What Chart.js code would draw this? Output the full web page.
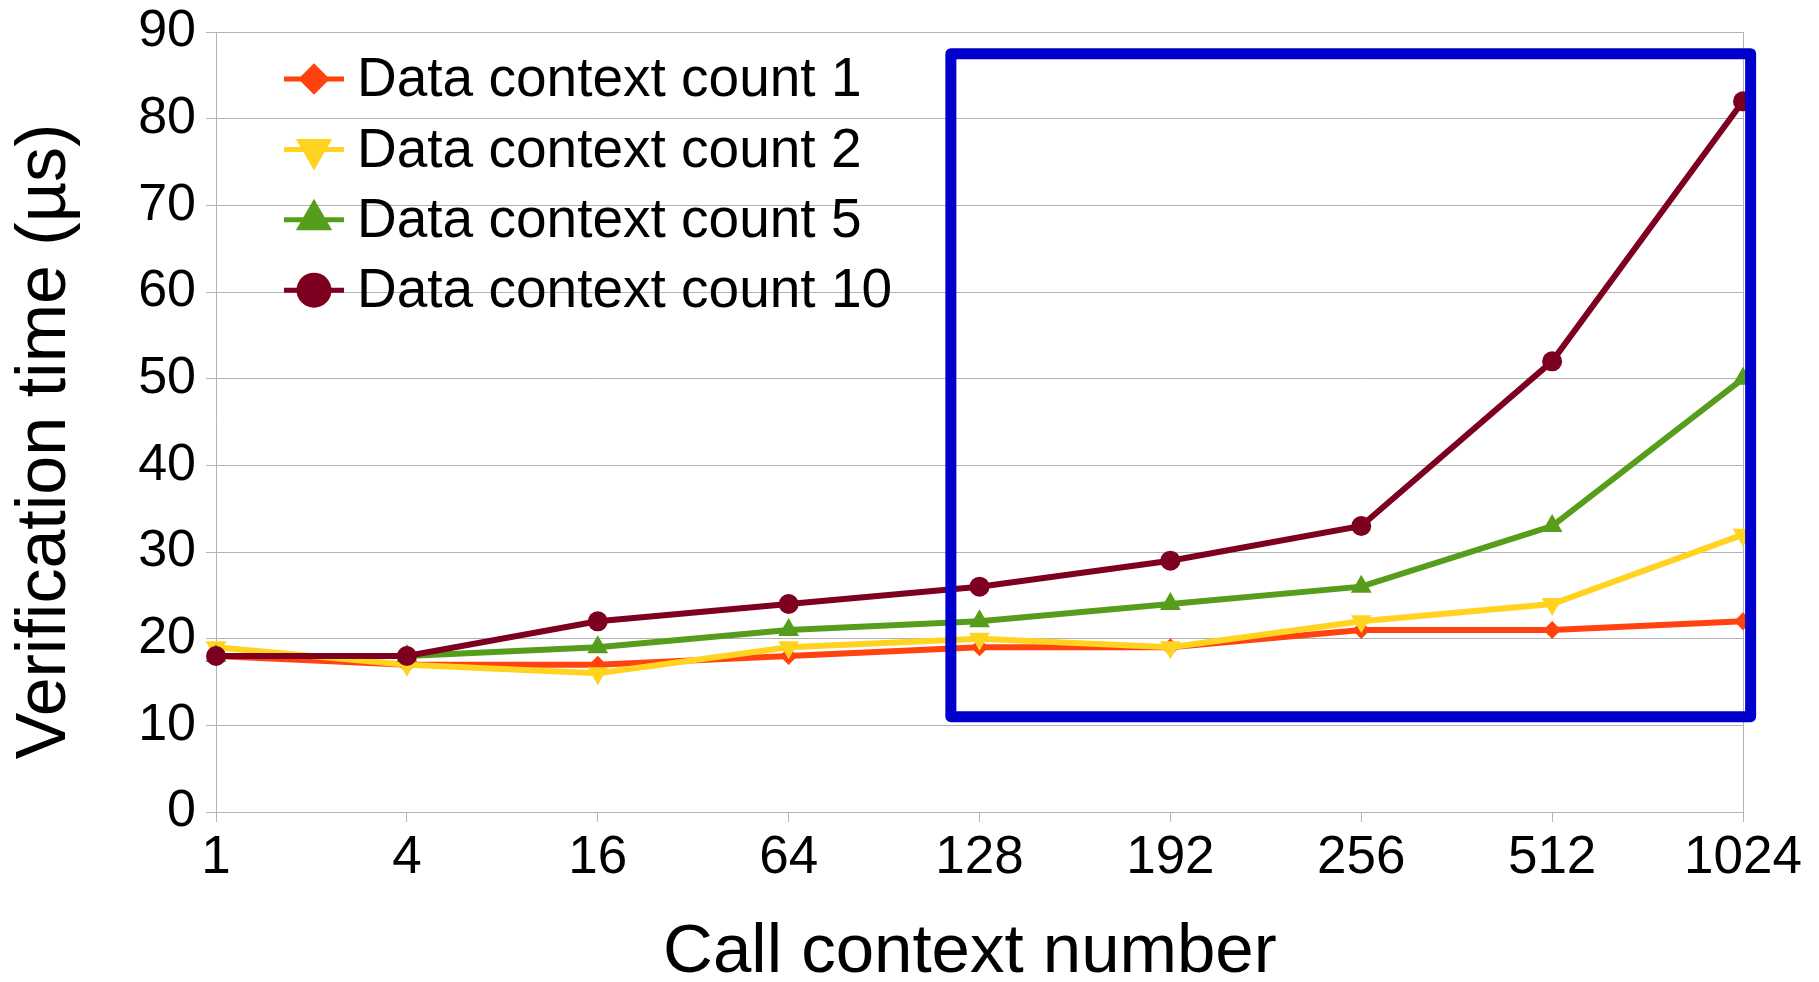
<!DOCTYPE html>
<html lang="en">
<head>
    <meta charset="UTF-8">
    <title>Verification time</title>
    <script src="https://cdn.jsdelivr.net/npm/chart.js"></script>
    <style>
        html, body { margin: 0; padding: 0; background: #fff; }
        #wrap { width: 1819px; height: 982px; }
    </style>
</head>
<body>
    <div id="wrap"><canvas id="chart"></canvas></div>

    <script>
        const callContexts = ['1', '4', '16', '64', '128', '192', '256', '512', '1024'];
        const count1 = [18, 17, 17, 18, 19, 19, 21, 21, 22];
        const count2 = [19, 17, 16, 19, 20, 19, 22, 24, 32];
        const count5 = [18, 18, 19, 21, 22, 24, 26, 33, 50];
        const count10 = [18, 18, 22, 24, 26, 29, 33, 52, 82];
        const seriesLabels = ['Data context count 1', 'Data context count 2', 'Data context count 5', 'Data context count 10'];
        const yTicks = [0, 10, 20, 30, 40, 50, 60, 70, 80, 90];

        // blue highlight box, in axis units (category index / µs)
        const boxX = [3.85, 8.04];
        const boxY = [11, 87.5];

        const FONT = 'Liberation Sans';
        const GRID = '#b3b3b3';

        function drawMarker(ctx, style, x, y, r, rot) {
            ctx.save();
            ctx.translate(x, y);
            ctx.rotate(rot * Math.PI / 180);
            ctx.beginPath();
            if (style === 'circle') {
                ctx.arc(0, 0, r, 0, Math.PI * 2);
            } else if (style === 'rectRot') {
                ctx.moveTo(-r, 0); ctx.lineTo(0, -r); ctx.lineTo(r, 0); ctx.lineTo(0, r);
            } else if (style === 'triangle') {
                for (let i = 0; i < 3; i++) {
                    const a = i * 2 * Math.PI / 3;
                    ctx[i ? 'lineTo' : 'moveTo'](Math.sin(a) * r, -Math.cos(a) * r);
                }
            }
            ctx.closePath();
            ctx.fill();
            ctx.restore();
        }

        // legend drawn inside the plot, line + marker like the original
        const insideLegend = {
            id: 'insideLegend',
            afterDraw(chart) {
                const {ctx, chartArea} = chart;
                chart.data.datasets.forEach((ds, i) => {
                    const y = chartArea.top + 47 + i * 70.4;
                    const x0 = chartArea.left + 68;
                    ctx.save();
                    ctx.strokeStyle = ds.borderColor;
                    ctx.lineWidth = 5;
                    ctx.beginPath();
                    ctx.moveTo(x0, y);
                    ctx.lineTo(x0 + 60, y);
                    ctx.stroke();
                    ctx.fillStyle = ds.borderColor;
                    drawMarker(ctx, ds.pointStyle, x0 + 30, y, ds.pointRadius * 1.75, ds.pointRotation || 0);
                    ctx.fillStyle = '#000';
                    ctx.font = '55px "' + FONT + '"';
                    ctx.textBaseline = 'middle';
                    ctx.fillText(ds.label, x0 + 73, y + 2);
                    ctx.restore();
                });
            }
        };

        const highlightBox = {
            id: 'highlightBox',
            afterDatasetsDraw(chart) {
                const {ctx, scales: {x, y}} = chart;
                const l = x.getPixelForValue(boxX[0]);
                const r = x.getPixelForValue(boxX[1]);
                const t = y.getPixelForValue(boxY[1]);
                const b = y.getPixelForValue(boxY[0]);
                ctx.save();
                ctx.strokeStyle = '#0000cc';
                ctx.lineWidth = 11;
                ctx.lineJoin = 'round';
                ctx.strokeRect(l, t, r - l, b - t);
                ctx.restore();
            }
        };

        function series(label, data, color, style, radius, rot, order) {
            return {
                label: label,
                data: data,
                borderColor: color,
                backgroundColor: color,
                borderWidth: 6,
                pointStyle: style,
                pointRadius: radius,
                pointRotation: rot,
                pointBorderWidth: 0,
                pointBackgroundColor: color,
                tension: 0,
                clip: false,
                order: order
            };
        }

        new Chart(document.getElementById('chart'), {
            type: 'line',
            data: {
                labels: callContexts,
                datasets: [
                    series(seriesLabels[0], count1, '#ff420e', 'rectRot', 9, 0, 3),
                    series(seriesLabels[1], count2, '#ffd320', 'triangle', 12, 180, 2),
                    series(seriesLabels[2], count5, '#579d1c', 'triangle', 12, 0, 1),
                    series(seriesLabels[3], count10, '#7e0021', 'circle', 10, 0, 0)
                ]
            },
            options: {
                responsive: true,
                maintainAspectRatio: false,
                animation: false,
                devicePixelRatio: 1,
                layout: { padding: { top: 32, right: 76, left: 0, bottom: 0 } },
                plugins: {
                    legend: { display: false },
                    tooltip: { enabled: false }
                },
                scales: {
                    x: {
                        grid: {
                            color: c => c.index === callContexts.length - 1 ? GRID : 'rgba(0,0,0,0)',
                            tickColor: GRID,
                            tickLength: 10
                        },
                        border: { color: GRID },
                        ticks: {
                            color: '#000',
                            font: { family: FONT, size: 53 },
                            padding: 5,
                            maxRotation: 0,
                            autoSkip: false
                        },
                        title: {
                            display: true,
                            text: 'Call context number ',
                            color: '#000',
                            font: { family: FONT, size: 69, lineHeight: 1 },
                            padding: { top: 0, bottom: -5 }
                        },
                        afterFit: s => { s.height = 170; }
                    },
                    y: {
                        min: 0,
                        max: 90,
                        afterBuildTicks: s => { s.ticks = yTicks.map(v => ({ value: v })); },
                        grid: { color: GRID, tickColor: GRID, tickLength: 10 },
                        border: { color: GRID },
                        ticks: {
                            color: '#000',
                            font: { family: FONT, size: 52, lineHeight: 0.8 },
                            padding: 10
                        },
                        title: {
                            display: true,
                            text: 'Verification time (µs)  ',
                            color: '#000',
                            font: { family: FONT, size: 70, lineHeight: 1 },
                            padding: { top: 11, bottom: 0 }
                        },
                        afterFit: s => { s.width = 216; }
                    }
                }
            },
            plugins: [highlightBox, insideLegend]
        });
    </script>
</body>
</html>
